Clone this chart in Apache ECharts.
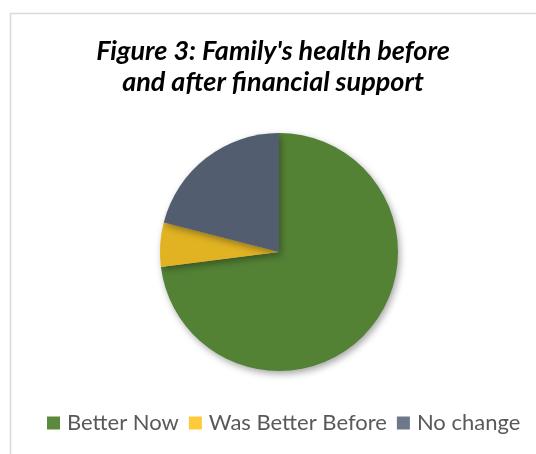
<!DOCTYPE html>
<html>
<head>
<meta charset="utf-8">
<script src="https://cdn.jsdelivr.net/npm/echarts@6/dist/echarts.min.js"></script>
<style>html,body{margin:0;padding:0;background:#fff;}#c{width:536px;height:454px;}</style>
</head>
<body>
<div id="c"></div>
<script>
const categories = ['Better Now', 'Was Better Before', 'No change'];
const values = [73, 6, 21];
const sliceColors = ['#548235', '#E1B323', '#525E70'];
const legendColors = ['#5B8A3C', '#FFCA3A', '#6D788A'];
const titleText = "Figure 3: Family's health before\nand after financial support";

const chart = echarts.init(document.getElementById('c'), null, {renderer: 'canvas'});
chart.setOption({
  backgroundColor: '#ffffff',
  animation: false,
  graphic: [{
    type: 'rect', silent: true,
    shape: {x: 10.5, y: 13.5, width: 700, height: 700},
    style: {fill: 'none', stroke: '#D9D9D9', lineWidth: 1.5}
  }],
  title: {
    text: titleText,
    left: 273, top: 36, textAlign: 'center', padding: 0,
    textStyle: {fontFamily: 'Lato', fontWeight: 'bold', fontStyle: 'italic', fontSize: 27, lineHeight: 31, color: '#000'}
  },
  legend: {
    left: 47, top: 412, padding: 0,
    itemWidth: 13, itemHeight: 13, itemGap: 10,
    icon: 'rect',
    data: categories.map((n, i) => ({name: n, itemStyle: {color: legendColors[i]}})),
    textStyle: {fontFamily: 'Lato', fontSize: 22, color: '#595959', padding: [0, 0, 0, 2]}
  },
  series: [{
    type: 'pie',
    center: [279, 252],
    radius: 119,
    startAngle: 90,
    clockwise: true,
    label: {show: false},
    labelLine: {show: false},
    emphasis: {disabled: true},
    itemStyle: {shadowBlur: 7, shadowOffsetX: 2, shadowOffsetY: 3, shadowColor: 'rgba(0,0,0,0.35)'},
    data: categories.map((n, i) => ({name: n, value: values[i], itemStyle: {color: sliceColors[i]}}))
  }]
});
</script>
</body>
</html>
